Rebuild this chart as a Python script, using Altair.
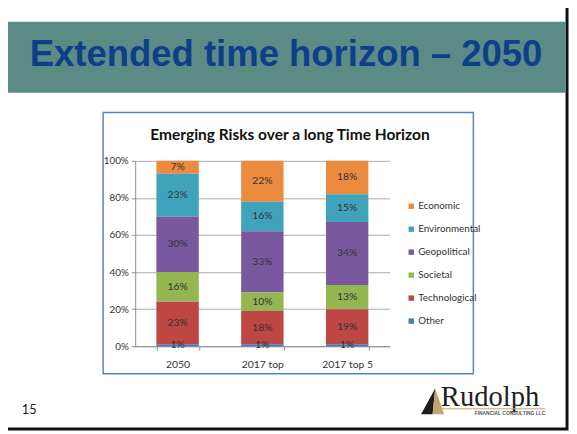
import altair as alt
import pandas as pd

# ---- data ----
categories = ["2050", "2017 top", "2017 top 5"]
risks = ["Economic", "Environmental", "Geopolitical", "Societal", "Technological", "Other"]
economic = [7, 22, 18]
environmental = [23, 16, 15]
geopolitical = [30, 33, 34]
societal = [16, 10, 13]
technological = [23, 18, 19]
other = [1, 1, 1]
risk_colors = ["#EC8A3D", "#3FA3BC", "#7A58A0", "#93B651", "#BE4643", "#4A78B5"]
y_ticks = [0, 20, 40, 60, 80, 100]

slide_title = "Extended time horizon \u2013 2050"
chart_title = "Emerging Risks over a long Time Horizon"
page_number = "15"

series = {
    "Economic": economic,
    "Environmental": environmental,
    "Geopolitical": geopolitical,
    "Societal": societal,
    "Technological": technological,
    "Other": other,
}
stack_order = {r: i for i, r in enumerate(reversed(risks))}  # Other at the bottom
rows = []
for risk, vals in series.items():
    for cat, v in zip(categories, vals):
        rows.append({"cat": cat, "risk": risk, "value": v, "order": stack_order[risk]})
df = pd.DataFrame(rows)

FONT = "Lato, sans-serif"
one = alt.Data(values=[{}])

# plot origin sits at window (137,160); chart origin at window (8,8)
def wx(x):
    return x - 137

def wy(y):
    return y - 160

frame = alt.Chart(one).mark_rect(fillOpacity=0, stroke="#111111", strokeWidth=3).encode(
    x=alt.value(wx(3)), x2=alt.value(wx(575)), y=alt.value(wy(3)), y2=alt.value(wy(432)))

band = alt.Chart(one).mark_rect(fill="#5B8B84").encode(
    x=alt.value(wx(5)), x2=alt.value(wx(574)), y=alt.value(wy(19)), y2=alt.value(wy(91)))

band_text = alt.Chart(one).mark_text(
    text=slide_title, font="Liberation Sans, Arial, sans-serif", fontSize=37,
    fontWeight="bold", color="#0D3F8B", align="center", baseline="alphabetic").encode(
    x=alt.value(wx(290)), y=alt.value(wy(64)))

box = alt.Chart(one).mark_rect(fillOpacity=0, stroke="#5A82BE", strokeWidth=1.5).encode(
    x=alt.value(wx(104.5)), x2=alt.value(wx(480)), y=alt.value(wy(111)), y2=alt.value(wy(376)))

ctitle = alt.Chart(one).mark_text(
    text=chart_title, font=FONT, fontSize=15.7, fontWeight="bold", color="#111111",
    align="center", baseline="alphabetic").encode(
    x=alt.value(wx(294)), y=alt.value(wy(139)))

x_scale = alt.Scale(paddingInner=0.5, paddingOuter=0.25)
x_axis = alt.Axis(title=None, labelAngle=0, labelFont=FONT, labelFontSize=10.5,
                  labelColor="#333333", labelPadding=10, tickBand="extent",
                  tickSize=4, tickColor="#8C8C8C", domainColor="#8C8C8C")
y_scale = alt.Scale(domain=[0, 100], nice=False)
y_axis = alt.Axis(title=None, values=y_ticks, labelExpr="datum.value + '%'",
                  labelOverlap=False, labelFont=FONT, labelFontSize=10,
                  labelColor="#333333", tickSize=4, tickColor="#8C8C8C",
                  domainColor="#8C8C8C", gridColor="#ABABAB", labelPadding=3)

bars = alt.Chart(df).mark_bar().encode(
    x=alt.X("cat:N", sort=categories, scale=x_scale, axis=x_axis),
    y=alt.Y("value:Q", stack="zero", scale=y_scale, axis=y_axis),
    color=alt.Color("risk:N", scale=alt.Scale(domain=risks, range=risk_colors),
                    legend=alt.Legend(orient="none", legendX=275, legendY=41, title=None,
                                      symbolType="square", symbolSize=30, symbolStrokeWidth=0,
                                      labelFont=FONT, labelFontSize=10, labelColor="#333333",
                                      rowPadding=13.3, padding=0, labelOffset=2)),
    order=alt.Order("order:Q", sort="ascending"),
)

labels = alt.Chart(df).transform_stack(
    stack="value", groupby=["cat"], as_=["v0", "v1"],
    sort=[alt.SortField("order", order="ascending")]
).transform_calculate(
    mid="(datum.v0 + datum.v1) / 2", lab="datum.value + '%'"
).mark_text(font=FONT, fontSize=10.5, color="#333333").encode(
    x=alt.X("cat:N", sort=categories, scale=x_scale, axis=x_axis),
    y=alt.Y("mid:Q", scale=y_scale, axis=y_axis),
    text="lab:N",
)

logo_dark = alt.Chart(one).mark_point(
    shape="M -0.85 1 L 0.25 -1 L 0.05 1 Z", filled=True, fill="#1E1E1E", opacity=1, strokeWidth=0,
    size=676).encode(x=alt.value(wx(438)), y=alt.value(wy(404)))
logo_gold = alt.Chart(one).mark_point(
    shape="M 0.25 -1 L 0.95 1 L 0.05 1 Z", filled=True, fill="#BFA66A", opacity=1, strokeWidth=0,
    size=676).encode(x=alt.value(wx(438)), y=alt.value(wy(404)))
logo_word = alt.Chart(one).mark_text(
    text="Rudolph", font="Liberation Serif, serif", fontSize=29, color="#1E1E1E",
    align="left", baseline="alphabetic").encode(x=alt.value(wx(447)), y=alt.value(wy(409)))
logo_line = alt.Chart(one).mark_rule(color="#BFA66A", strokeWidth=1).encode(
    x=alt.value(wx(448)), x2=alt.value(wx(553)), y=alt.value(wy(411.5)))
logo_sub = alt.Chart(one).mark_text(
    text="FINANCIAL CONSULTING LLC", font="Liberation Sans, sans-serif", fontSize=5,
    fontWeight="bold", color="#555555", align="right", baseline="alphabetic").encode(
    x=alt.value(wx(553)), y=alt.value(wy(418)))

page = alt.Chart(one).mark_text(
    text=page_number, font="Lato, sans-serif", fontSize=13, color="#222222",
    align="left", baseline="alphabetic").encode(x=alt.value(wx(22)), y=alt.value(wy(417)))

chart = alt.layer(
    frame, band, band_text, box, ctitle, bars, labels,
    logo_dark, logo_gold, logo_word, logo_line, logo_sub, page
).properties(
    width=258, height=188,
    autosize=alt.AutoSizeParams(type="none"),
    padding={"left": 129, "top": 152, "right": 182, "bottom": 86},
).configure_view(stroke=None)

chart.save("out.html", embed_options={"renderer": "svg", "actions": False})
